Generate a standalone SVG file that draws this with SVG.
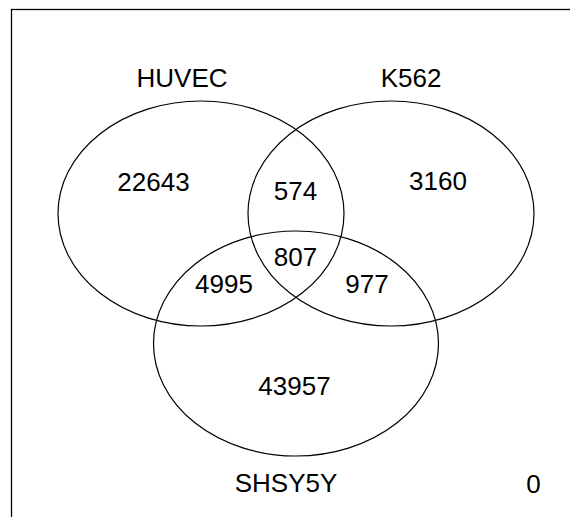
<svg xmlns="http://www.w3.org/2000/svg" width="570" height="517" viewBox="0 0 570 517">
  <style>
    .set { fill: none; stroke: #000; stroke-width: 1.2; }
    .frame { fill: none; stroke: #000; stroke-width: 1.3; }
    text { font-family: "Liberation Sans", Arial, sans-serif; font-size: 26px; fill: #000; text-anchor: middle; }
  </style>
  <rect width="570" height="517" fill="#fff"/>
  <!-- outer frame; right and bottom edges lie beyond the canvas -->
  <rect class="frame" x="11.5" y="9.5" width="600" height="560"/>

  <g id="huvec">
    <ellipse class="set" cx="201" cy="213.5" rx="143" ry="112.5"/>
    <text x="182" y="87">HUVEC</text>
  </g>
  <g id="k562">
    <ellipse class="set" cx="391" cy="213.5" rx="143" ry="112.5"/>
    <text x="411" y="87">K562</text>
  </g>
  <g id="shsy5y">
    <ellipse class="set" cx="296" cy="343.5" rx="142.5" ry="112.5"/>
    <text x="286" y="492">SHSY5Y</text>
  </g>

  <!-- region counts -->
  <g id="counts">
    <text x="153.5" y="191">22643</text>
    <text x="438" y="190">3160</text>
    <text x="295.5" y="200">574</text>
    <text x="295.5" y="266">807</text>
    <text x="224" y="293">4995</text>
    <text x="367" y="293">977</text>
    <text x="294.5" y="395">43957</text>
    <text x="533.5" y="493">0</text>
  </g>

  <g id="connectors"/>
</svg>
